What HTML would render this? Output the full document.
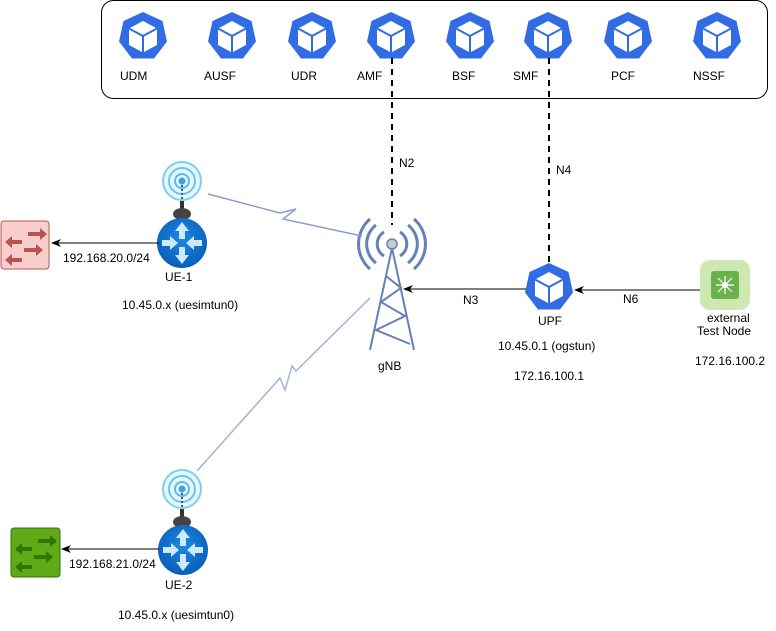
<!DOCTYPE html>
<html><head><meta charset="utf-8"><style>
html,body{margin:0;padding:0;background:#fff;}
svg{display:block;}
text{font-family:"Liberation Sans",sans-serif;font-size:12px;fill:#000;}
</style></head><body>
<svg width="776" height="631" viewBox="0 0 776 631" xmlns="http://www.w3.org/2000/svg">
<defs>
<g id="k8s">
  <polygon points="0,-24 19.5,-15 24,5.5 11,22.5 -11,22.5 -24,5.5 -19.5,-15" fill="#326ce5"/>
  <polygon points="0,-15 14,-7.5 14,9 0,16.5 -14,9 -14,-7.5" fill="#fff"/>
  <polyline points="-14,-7.5 0,0 14,-7.5" fill="none" stroke="#326ce5" stroke-width="2"/>
  <line x1="0" y1="0" x2="0" y2="16.5" stroke="#326ce5" stroke-width="2"/>
</g>
<radialGradient id="rg" cx="0.5" cy="0.4" r="0.6"><stop offset="0" stop-color="#1a8ae0"/><stop offset="1" stop-color="#0a5db8"/></radialGradient>
<g id="router">
  <circle r="25" fill="url(#rg)"/>
  <g fill="#cdeafc">
    <polygon points="0,-21 -7,-12 -3,-12 -3,-4 3,-4 3,-12 7,-12"/>
    <polygon points="0,21 -7,12 -3,12 -3,4 3,4 3,12 7,12"/>
    <polygon points="-4,0 -12,-7 -12,-3 -20,-3 -20,3 -12,3 -12,7"/>
    <polygon points="4,0 12,-7 12,-3 20,-3 20,3 12,3 12,7"/>
  </g>
</g>
<g id="ant">
  <circle r="20" fill="#e6f6fd"/>
  <circle r="19" fill="none" stroke="#7fd0f0" stroke-width="2"/>
  <circle r="13" fill="none" stroke="#6cc6ee" stroke-width="2"/>
  <circle r="7" fill="none" stroke="#5bbbe8" stroke-width="2"/>
  <circle r="3.5" fill="#3aa3e0"/>
  <line x1="0" y1="4" x2="0" y2="22" stroke="#555" stroke-width="2" stroke-dasharray="2,2"/>
  <rect x="-2" y="20" width="4" height="10" fill="#333"/>
  <ellipse cx="0" cy="33" rx="9" ry="6" fill="#444"/>
</g>
<g id="tower" fill="none" stroke="#6681b8" stroke-width="3">
  <path d="M-8,-12 A14,14 0 0 0 -8,12 M8,-12 A14,14 0 0 1 8,12"/>
  <path d="M-16,-19 A24,24 0 0 0 -16,19 M16,-19 A24,24 0 0 1 16,19"/>
  <path d="M-22,-25 A33,33 0 0 0 -22,25 M22,-25 A33,33 0 0 1 22,25"/>
  <g stroke-width="2"><line x1="0" y1="4" x2="-22" y2="106"/><line x1="0" y1="4" x2="22" y2="106"/>
  <polyline points="-6,32 9,44 -11,58 13,72 -16,86 18,100" /></g>
  <circle r="5" fill="#c8c8d0" stroke="#6681b8" stroke-width="1.5"/>
</g>
<marker id="ar" markerWidth="10" markerHeight="8" refX="9" refY="4" orient="auto" markerUnits="userSpaceOnUse"><path d="M0,0 L10,4 L0,8 L3,4 Z" fill="#000"/></marker>
</defs>

<rect x="101.5" y="0.5" width="666" height="98" rx="12" fill="#fff" stroke="#000" stroke-width="1"/>
<use href="#k8s" x="143" y="36"/><use href="#k8s" x="232" y="36"/><use href="#k8s" x="312" y="36"/><use href="#k8s" x="391" y="36"/>
<use href="#k8s" x="470" y="36"/><use href="#k8s" x="548" y="36"/><use href="#k8s" x="628" y="36"/><use href="#k8s" x="717" y="36"/>
<text x="120" y="80">UDM</text><text x="204" y="80">AUSF</text><text x="291" y="80">UDR</text><text x="357" y="80">AMF</text>
<text x="452" y="80">BSF</text><text x="513" y="80">SMF</text><text x="611" y="80">PCF</text><text x="693" y="80">NSSF</text>

<line x1="392" y1="58" x2="392" y2="225" stroke="#000" stroke-width="2" stroke-dasharray="6,5"/>
<line x1="549" y1="58" x2="549" y2="262" stroke="#000" stroke-width="2" stroke-dasharray="6,5"/>
<text x="399" y="167">N2</text><text x="556" y="174">N4</text>

<use href="#tower" x="392" y="244"/>
<text x="378" y="370">gNB</text>

<polyline points="208,194 280,213 296,209 283,219 362,236" fill="none" stroke="#8b9ecb" stroke-width="1.5"/>
<polyline points="197,471 280,378 285,390 292,366 296,371 370,298" fill="none" stroke="#a3b2d6" stroke-width="1.5"/>

<use href="#ant" x="182" y="181"/>
<use href="#router" x="182" y="243"/>
<text x="165" y="281">UE-1</text>
<text x="122" y="309">10.45.0.x (uesimtun0)</text>
<line x1="159" y1="243" x2="52" y2="243" stroke="#000" marker-end="url(#ar)"/>
<text x="63" y="262">192.168.20.0/24</text>
<rect x="1" y="221" width="48" height="48" rx="3" fill="#f8cecc" stroke="#b85450"/>
<g fill="#b85450">
<polygon points="28,232 40,232 40,228 47,234 40,240 40,236 28,236"/>
<polygon points="22,240 12,240 12,236 5,242 12,248 12,244 22,244"/>
<polygon points="24,248 36,248 36,244 43,250 36,256 36,252 24,252"/>
<polygon points="22,258 12,258 12,254 5,260 12,266 12,262 22,262"/>
</g>

<use href="#ant" x="182" y="489"/>
<use href="#router" x="183" y="550"/>
<text x="165" y="589">UE-2</text>
<text x="118" y="619">10.45.0.x (uesimtun0)</text>
<line x1="159" y1="549" x2="62" y2="549" stroke="#000" marker-end="url(#ar)"/>
<text x="69" y="568">192.168.21.0/24</text>
<rect x="11" y="528" width="49" height="49" rx="3" fill="#60a917" stroke="#2d7600"/>
<g fill="#2d7600">
<polygon points="38,539 50,539 50,535 57,541 50,547 50,543 38,543"/>
<polygon points="32,547 22,547 22,543 15,549 22,555 22,551 32,551"/>
<polygon points="34,555 46,555 46,551 53,557 46,563 46,559 34,559"/>
<polygon points="32,565 22,565 22,561 15,567 22,573 22,569 32,569"/>
</g>

<use href="#k8s" x="549" y="287"/>
<line x1="526" y1="289" x2="404" y2="289" stroke="#000" marker-end="url(#ar)"/>
<text x="463" y="304">N3</text>
<text x="538" y="325">UPF</text>
<text x="498" y="350">10.45.0.1 (ogstun)</text>
<text x="514" y="380">172.16.100.1</text>

<line x1="700" y1="290" x2="575" y2="290" stroke="#000" marker-end="url(#ar)"/>
<text x="623" y="303">N6</text>
<rect x="700" y="260" width="50" height="50" rx="10" fill="#cde8b0"/>
<rect x="711" y="271" width="28" height="28" rx="3" fill="#6ab04c"/>
<g stroke="#fff" stroke-width="1.2"><line x1="716" y1="285" x2="734" y2="285"/><line x1="725" y1="276" x2="725" y2="294"/><line x1="718" y1="278" x2="732" y2="292"/><line x1="732" y1="278" x2="718" y2="292"/></g>
<circle cx="725" cy="285" r="3" fill="#fff"/>
<text x="707" y="322">external</text>
<text x="697" y="335">Test Node</text>
<text x="695" y="365">172.16.100.2</text>
</svg>
</body></html>
